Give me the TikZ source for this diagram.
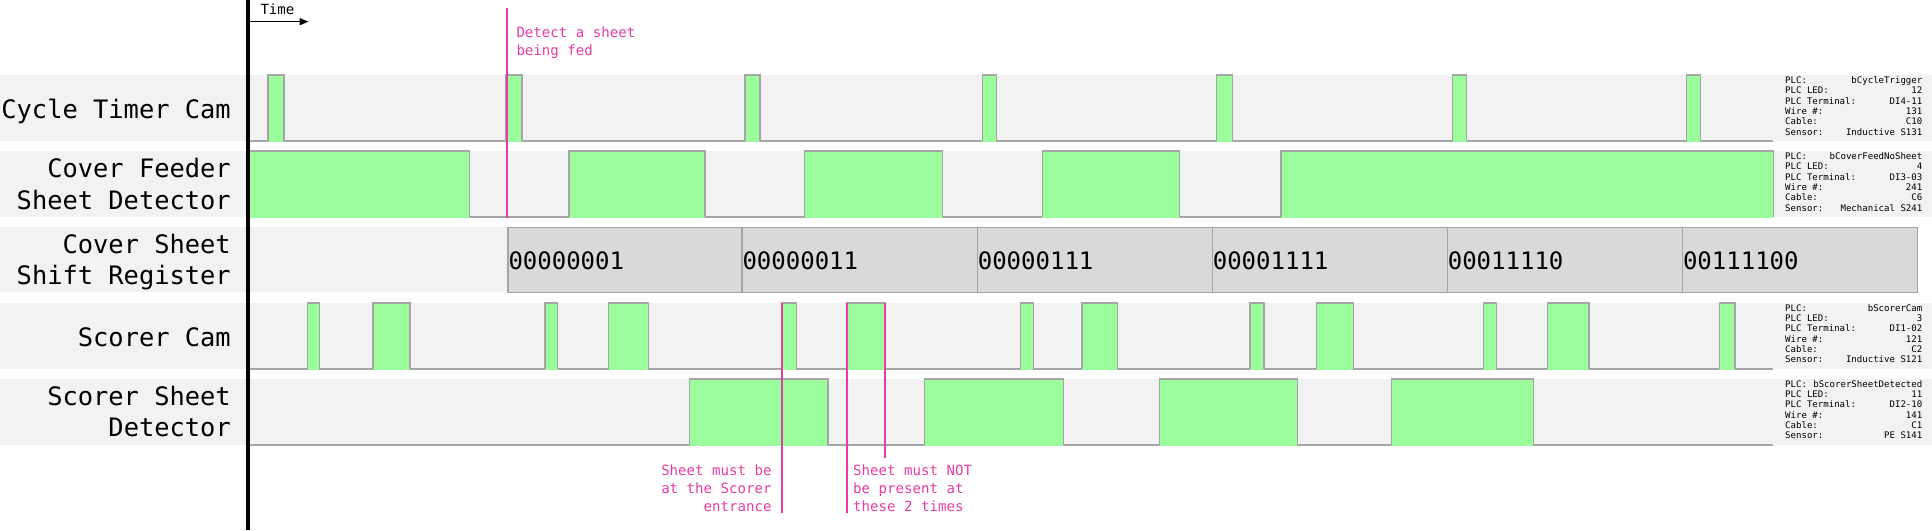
\documentclass[tikz,border=0pt]{standalone}
\usepackage{fontspec}
\setmainfont{DejaVu Sans Mono}
\setmonofont{DejaVu Sans Mono}
\usetikzlibrary{arrows.meta}
\definecolor{bandgray}{RGB}{242,242,242}
\definecolor{siggreen}{RGB}{155,252,155}
\definecolor{edgegray}{RGB}{165,165,165}
\definecolor{reggray}{RGB}{217,217,217}
\definecolor{annpink}{RGB}{230,60,165}
\tikzset{
  band/.style={fill=bandgray},
  hi/.style={fill=siggreen},
  trace/.style={draw=edgegray, line width=1.5pt, line join=miter},
  regbox/.style={fill=reggray, draw=edgegray, line width=1.3pt},
  rowlabel/.style={anchor=base east, font=\fontsize{25.4}{31}\selectfont, inner sep=0pt},
  infotext/.style={font=\fontsize{9.05}{10.35}\selectfont, inner sep=0pt},
  regtext/.style={anchor=base west, font=\fontsize{24}{28}\selectfont, inner sep=0pt},
  note/.style={text=annpink, font=\fontsize{14.1}{18}\selectfont, inner sep=0pt},
  pinkline/.style={draw=annpink, line width=2pt},
}
\newcommand\signal[3]{%
  \draw[trace] (248,#2) -- (1773.3,#2);
  \foreach \a/\b in {#3} {
    \fill[hi] (\a,#1) rectangle (\b,#2+0.8);
    \draw[trace] (\a,#2) -- (\a,#1) -- (\b,#1) -- (\b,#2);
  }%
}
\newcommand\infoblock[3]{%
  \foreach \k/\v [count=\i] in {#3} {
    \node[infotext, anchor=base west] (#1k\i) at (1785, #2 + 10.35*\i - 10.35) {\k};
    \node[infotext, anchor=base east] (#1v\i) at (1922.5, #2 + 10.35*\i - 10.35) {\v};
  }%
}
\begin{document}
\begin{tikzpicture}[x=1pt,y=-1pt]
\useasboundingbox (0,0) rectangle (1932,530);
% row bands
\fill[band] (0,75) rectangle (1932,141);
\fill[band] (0,151) rectangle (1932,217);
\fill[band] (0,227.3) rectangle (1917.3,292.3);
\fill[band] (0,303) rectangle (1932,369);
\fill[band] (0,379) rectangle (1932,445);

% signals
\signal{75}{141}{268/284, 506/522, 745/760, 982.3/996.3, 1216.7/1232.7, 1452.7/1466.7, 1686.7/1700.7}
\signal{151}{217}{248/469.3, 569/705, 804.5/942.5, 1042.3/1179.7, 1281/1773.3}
\signal{303}{369}{307.7/319.4, 373/410, 545/557.7, 608.7/648.3, 781.7/796.3, 846.7/885.3, 1020.3/1033.3, 1082/1117.3, 1250/1264, 1316.3/1353.3, 1483.3/1496.3, 1547.3/1589, 1719.3/1735}
\signal{379}{445}{689.3/828, 924.3/1063.3, 1159.3/1297.3, 1391.3/1533.3}

% shift register
\foreach \a/\b/\t [count=\i] in {508/742/00000001, 742/977.3/00000011, 977.3/1212.3/00000111, 1212.3/1447.3/00001111, 1447.3/1682.5/00011110, 1682.5/1917.3/00111100} {
  \draw[regbox] (\a,227.3) rectangle (\b,292.3);
  \node[regtext] (reg\i) at (\a+0.3,269.5) {\t};
}

% row labels
\node[rowlabel] (l1) at (231,118) {Cycle Timer Cam};
\node[rowlabel] (l2a) at (231,177.7) {Cover Feeder};
\node[rowlabel] (l2b) at (231,209) {Sheet Detector};
\node[rowlabel] (l3a) at (231,253.5) {Cover Sheet};
\node[rowlabel] (l3b) at (231,284.5) {Shift Register};
\node[rowlabel] (l4) at (231,346) {Scorer Cam};
\node[rowlabel] (l5a) at (231,405.8) {Scorer Sheet};
\node[rowlabel] (l5b) at (231,436.7) {Detector};

% info blocks
\infoblock{ia}{83.5}{PLC:/bCycleTrigger, PLC LED:/12, PLC Terminal:/DI4-11, Wire \#:/131, Cable:/C10, Sensor:/Inductive S131}
\infoblock{ib}{159.5}{PLC:/bCoverFeedNoSheet, PLC LED:/4, PLC Terminal:/DI3-03, Wire \#:/241, Cable:/C6, Sensor:/Mechanical S241}
\infoblock{ic}{311}{PLC:/bScorerCam, PLC LED:/3, PLC Terminal:/DI1-02, Wire \#:/121, Cable:/C2, Sensor:/Inductive S121}
\infoblock{id}{387}{PLC:/bScorerSheetDetected, PLC LED:/11, PLC Terminal:/DI2-10, Wire \#:/141, Cable:/C1, Sensor:/PE S141}

% pink markers
\coordinate (pa0) at (507,8);       \coordinate (pa1) at (507,217.5);
\coordinate (pb0) at (781.7,303);   \coordinate (pb1) at (781.7,512.5);
\coordinate (pc0) at (846.6,303);   \coordinate (pc1) at (846.6,512.5);
\coordinate (pd0) at (885.3,303);   \coordinate (pd1) at (885.3,457.5);
\draw[pinkline] (pa0) -- (pa1);
\draw[pinkline] (pb0) -- (pb1);
\draw[pinkline] (pc0) -- (pc1);
\draw[pinkline] (pd0) -- (pd1);

\node[note, anchor=base west] (n1a) at (516.3,37.7) {Detect a sheet};
\node[note, anchor=base west] (n1b) at (516.3,55.4) {being fed};
\node[note, anchor=base east] (n2a) at (771.8,475.3) {Sheet must be};
\node[note, anchor=base east] (n2b) at (771.8,493.3) {at the Scorer};
\node[note, anchor=base east] (n2c) at (771.8,511.3) {entrance};
\node[note, anchor=base west] (n3a) at (853,475.3) {Sheet must NOT};
\node[note, anchor=base west] (n3b) at (853,493.3) {be present at};
\node[note, anchor=base west] (n3c) at (853,511.3) {these 2 times};

% axis and time arrow
\coordinate (ax0) at (248,0); \coordinate (ax1) at (248,530);
\draw[line width=3.5pt] (ax0) -- (ax1);
\coordinate (t0) at (248,21.7); \coordinate (t1) at (308.5,21.7);
\draw[line width=1.2pt, -{Triangle[length=9pt,width=7pt]}] (t0) -- (t1);
\node[anchor=base west, inner sep=0pt, font=\fontsize{14}{17}\selectfont] (time) at (260.3,14.3) {Time};
\end{tikzpicture}
\end{document}
